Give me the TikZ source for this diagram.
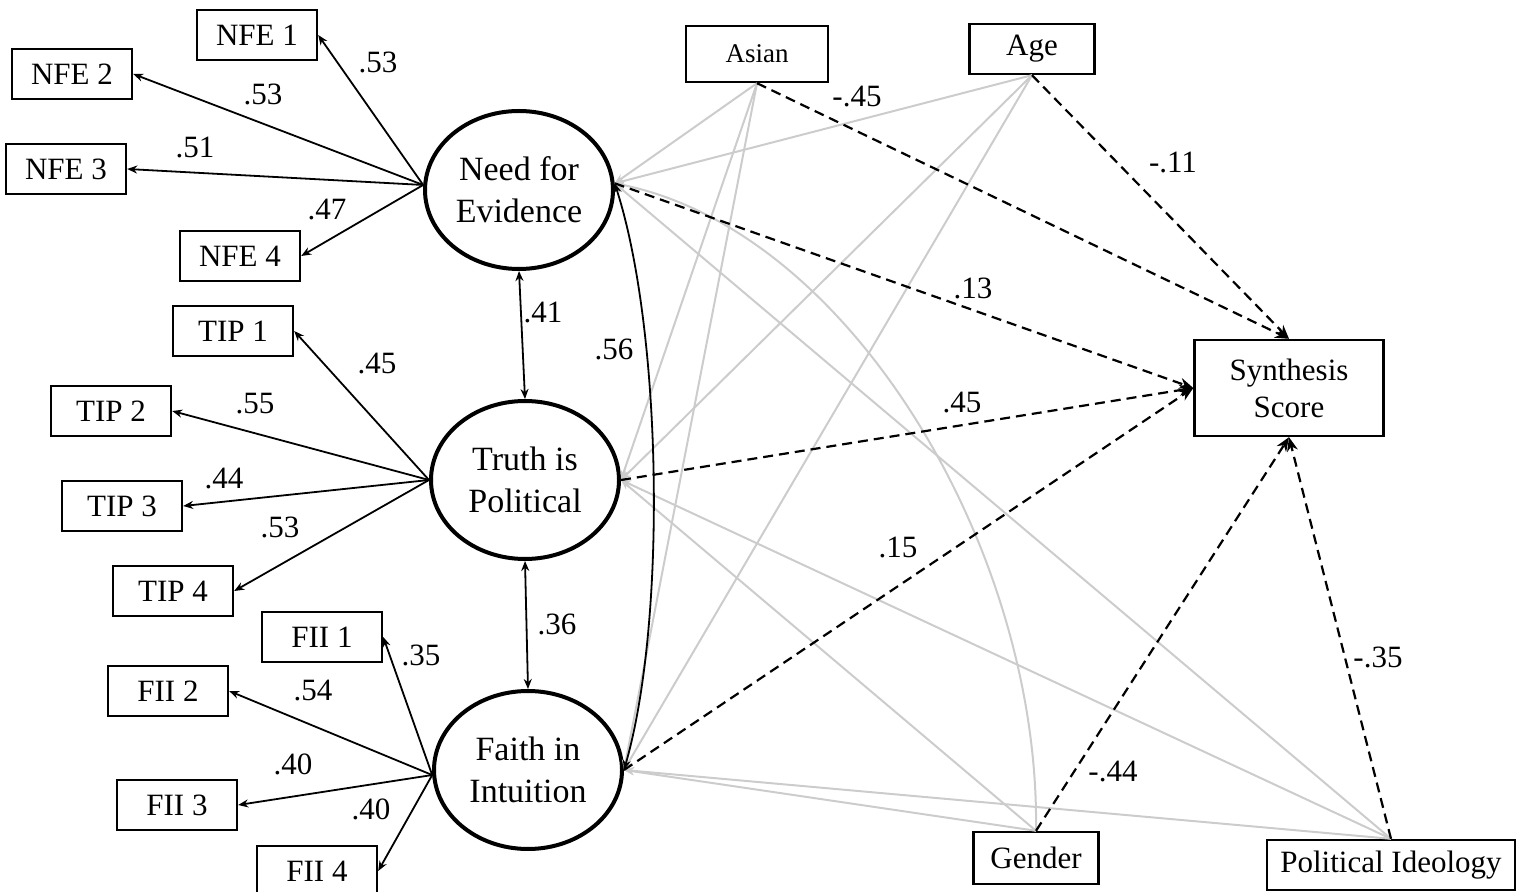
\documentclass[tikz,border=0pt]{standalone}
\usepackage{fontspec}
\setmainfont{Liberation Serif}
\usepackage{tikz}
\usetikzlibrary{arrows.meta,shapes.geometric}
\pgfdeclarelayer{edgelayer}
\pgfdeclarelayer{nodelayer}
\pgfsetlayers{edgelayer,nodelayer,main}
\definecolor{myblack}{rgb}{0.000,0.000,0.000}
\definecolor{mygray}{rgb}{0.800,0.800,0.800}
\tikzstyle{indicator}=[rectangle,draw=myblack,line width=1.2pt,minimum width=60pt,minimum height=25pt,inner sep=0pt,font=\fontsize{15.5}{18}\selectfont]
\tikzstyle{latent}=[ellipse,draw=myblack,line width=2pt,minimum width=94pt,minimum height=79pt,inner sep=0pt,align=center,font=\fontsize{17}{21}\selectfont]
\tikzstyle{covariate}=[rectangle,draw=myblack,line width=1.2pt,inner sep=0pt,align=center,font=\fontsize{15.5}{18.5}\selectfont]
\tikzstyle{coef}=[inner sep=0pt,font=\fontsize{15.5}{18}\selectfont]
\tikzstyle{loading}=[-{Stealth[length=5pt,width=4pt]},draw=myblack,line width=0.9pt]
\tikzstyle{corr}=[{Stealth[length=5pt,width=4pt]}-{Stealth[length=5pt,width=4pt]},draw=myblack,line width=0.9pt]
\tikzstyle{covline}=[-{Stealth[length=5pt,width=4pt]},draw=mygray,line width=1pt]
\tikzstyle{regress}=[-{Stealth[length=7pt,width=5.5pt]},draw=myblack,dash pattern=on 5pt off 3pt,line width=1.1pt]

\begin{document}
\begin{tikzpicture}[x=0.5pt,y=-0.5pt]
	\useasboundingbox (0,0) rectangle (1525,892);
	%\begin{pgfonlayer}{nodelayer}
		\node [style=indicator] (nfe1) at (257,35) {NFE 1};
		\node [style=indicator] (nfe2) at (72,74) {NFE 2};
		\node [style=indicator] (nfe3) at (66,169) {NFE 3};
		\node [style=indicator] (nfe4) at (240,256) {NFE 4};
		\node [style=indicator] (tip1) at (233,331) {TIP 1};
		\node [style=indicator] (tip2) at (111,411) {TIP 2};
		\node [style=indicator] (tip3) at (122,506) {TIP 3};
		\node [style=indicator] (tip4) at (173,591) {TIP 4};
		\node [style=indicator] (fii1) at (322,637) {FII 1};
		\node [style=indicator] (fii2) at (168,691) {FII 2};
		\node [style=indicator] (fii3) at (177,805) {FII 3};
		\node [style=indicator] (fii4) at (317,871) {FII 4};
		\node [style=latent] (nfe) at (519,190) {Need for\\Evidence};
		\node [style=latent] (tip) at (525,480) {Truth is\\Political};
		\node [style=latent] (fii) at (528,770) {Faith in\\Intuition};
		\node [style=covariate,minimum width=71pt,minimum height=28pt,font=\fontsize{13.5}{16}\selectfont] (asian) at (757,54) {Asian};
		\node [style=covariate,minimum width=62.5pt,minimum height=25pt] (age) at (1032,49) {Age};
		\node [style=covariate,minimum width=94.5pt,minimum height=48pt] (synth) at (1289,388) {Synthesis\\Score};
		\node [style=covariate,minimum width=62.5pt,minimum height=26pt] (gender) at (1036,858) {Gender};
		\node [style=covariate,minimum width=124pt,minimum height=25pt] (ideo) at (1391,865) {Political Ideology};
	%\end{pgfonlayer}
	%\begin{pgfonlayer}{edgelayer}
		% covariates to factors
		\draw [style=covline] (asian.south) to (nfe.4);
		\draw [style=covline] (asian.south) to (tip.east);
		\draw [style=covline] (asian.south) to (fii.east);
		\draw [style=covline] (age.south) to (nfe.4);
		\draw [style=covline] (age.south) to (tip.east);
		\draw [style=covline] (age.south) to (fii.east);
		\draw [style=covline] (gender.north) .. controls (1040,550) and (850,230) .. (nfe.4);
		\draw [style=covline] (gender.north) to (tip.east);
		\draw [style=covline] (gender.north) to (fii.east);
		\draw [style=covline] (ideo.north) to (nfe.4);
		\draw [style=covline] (ideo.north) to (tip.east);
		\draw [style=covline] (ideo.north) to (fii.east);
		% paths to outcome
		\draw [style=regress] (asian.south) to (synth.north);
		\draw [style=regress] (age.south) to (synth.north);
		\draw [style=regress] (nfe.4) to (synth.west);
		\draw [style=regress] (tip.east) to (synth.west);
		\draw [style=regress] (fii.east) to (synth.west);
		\draw [style=regress] (gender.north) to (synth.south);
		\draw [style=regress] (ideo.north) to (synth.south);
		% loadings
		\draw [style=loading] (nfe.177) to (nfe1.east);
		\draw [style=loading] (nfe.177) to (nfe2.east);
		\draw [style=loading] (nfe.177) to (nfe3.east);
		\draw [style=loading] (nfe.177) to (nfe4.east);
		\draw [style=loading] (tip.west) to (tip1.east);
		\draw [style=loading] (tip.west) to (tip2.east);
		\draw [style=loading] (tip.west) to (tip3.east);
		\draw [style=loading] (tip.west) to (tip4.east);
		\draw [style=loading] (fii.183) to (fii1.east);
		\draw [style=loading] (fii.183) to (fii2.east);
		\draw [style=loading] (fii.183) to (fii3.east);
		\draw [style=loading] (fii.183) to (fii4.east);
		% factor correlations
		\draw [style=corr] (nfe.south) to (tip.north);
		\draw [style=corr] (tip.south) to (fii.north);
		\draw [style=corr] (nfe.4) .. controls (662,330) and (667,620) .. (fii.east);
	%\end{pgfonlayer}
	\node [style=coef] (l1) at (378,62) {.53};
	\node [style=coef] (l2) at (263,94) {.53};
	\node [style=coef] (l3) at (195,147) {.51};
	\node [style=coef] (l4) at (327,210) {.47};
	\node [style=coef] (l5) at (377,364) {.45};
	\node [style=coef] (l6) at (255,404) {.55};
	\node [style=coef] (l7) at (224,479) {.44};
	\node [style=coef] (l8) at (280,527) {.53};
	\node [style=coef] (l9) at (421,655) {.35};
	\node [style=coef] (l10) at (313,691) {.54};
	\node [style=coef] (l11) at (293,764) {.40};
	\node [style=coef] (l12) at (371,809) {.40};
	\node [style=coef] (r1) at (543,312) {.41};
	\node [style=coef] (r2) at (557,624) {.36};
	\node [style=coef] (r3) at (614,349) {.56};
	\node [style=coef] (b1) at (857,97) {-.45};
	\node [style=coef] (b2) at (1173,162) {-.11};
	\node [style=coef] (b3) at (973,288) {.13};
	\node [style=coef] (b4) at (962,403) {.45};
	\node [style=coef] (b5) at (898,547) {.15};
	\node [style=coef] (b6) at (1113,772) {-.44};
	\node [style=coef] (b7) at (1378,657) {-.35};
\end{tikzpicture}
\end{document}
